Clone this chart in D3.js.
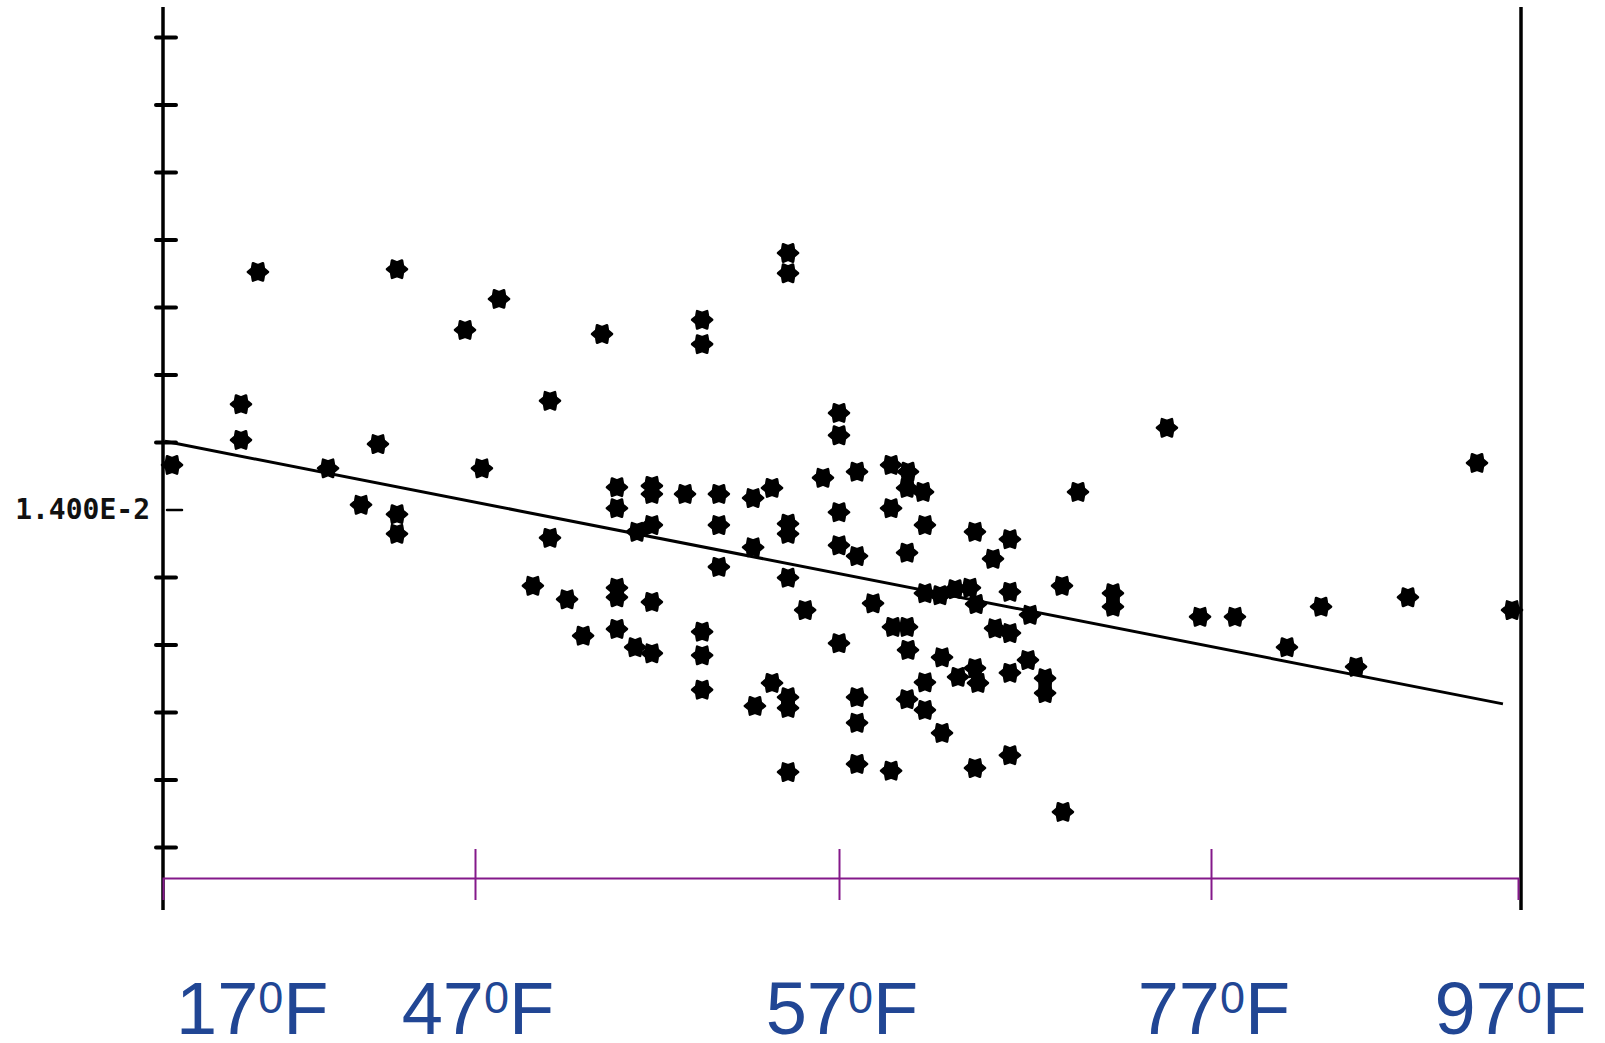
<!DOCTYPE html>
<html>
<head>
<meta charset="utf-8">
<style>
	body { margin: 0; background: #fff; }
	svg { display: block; }
</style>
</head>
<body>
<svg width="1605" height="1043"></svg>

<script src="https://d3js.org/d3.v7.min.js"></script>
<script>

	/*

	Scatter of a ratio (x 1E-2) against temperature, with the fitted line.
	The temperature labels were pasted on later, so the °F axis is not even:
	it is a piecewise scale through the labelled temperatures.

	*/

	// temperature of each point, °F
	const tempF = [
		17.87, 26.13, 24.50, 24.50, 32.87, 36.04, 37.67, 39.50, 39.50, 39.50,
		46.04, 47.66, 47.19, 49.06, 49.06, 48.59, 49.53, 49.97, 50.49, 53.24,
		53.24, 55.60, 55.60, 50.90, 50.90, 51.86, 51.86, 52.77, 53.70, 54.64,
		55.16, 51.45, 51.86, 53.70, 55.60, 55.60, 54.64, 53.70, 55.60, 56.07,
		50.90, 50.90, 51.86, 50.90, 51.40, 51.86, 53.24, 53.24, 53.24, 54.69,
		55.16, 55.60, 55.60, 55.60, 56.56, 57.00, 57.00, 57.00, 57.97, 57.00,
		57.97, 59.80, 60.71, 60.66, 61.52, 59.80, 61.62, 60.66, 57.00, 58.83,
		59.90, 60.66, 60.71, 57.97, 57.97, 57.97, 59.80, 60.66, 61.62, 61.62,
		62.54, 62.54, 61.62, 62.43, 63.24, 64.04, 64.37, 64.31, 66.19, 65.28,
		66.19, 67.27, 65.39, 66.19, 63.40, 64.31, 64.47, 66.19, 67.16, 68.08,
		68.08, 64.31, 66.19, 69.04, 68.99, 69.85, 71.73, 71.73, 74.63, 76.41,
		78.56, 81.95, 84.17, 86.45, 89.83, 94.33, 96.61
	]

	// measured value of each point, in units of 1E-2
	const ratio = [
		1.466, 1.752, 1.556, 1.503, 1.461, 1.407, 1.497, 1.756, 1.393, 1.364,
		1.666, 1.712, 1.461, 1.561, 1.358, 1.287, 1.267, 1.213, 1.660, 1.681,
		1.645, 1.780, 1.750, 1.433, 1.402, 1.435, 1.423, 1.423, 1.423, 1.417,
		1.432, 1.367, 1.377, 1.377, 1.379, 1.364, 1.344, 1.315, 1.299, 1.251,
		1.284, 1.270, 1.263, 1.223, 1.196, 1.187, 1.219, 1.184, 1.133, 1.109,
		1.143, 1.122, 1.106, 1.011, 1.447, 1.543, 1.510, 1.396, 1.456, 1.347,
		1.331, 1.466, 1.456, 1.432, 1.426, 1.402, 1.377, 1.336, 1.202, 1.261,
		1.226, 1.226, 1.192, 1.122, 1.084, 1.023, 1.013, 1.119, 1.144, 1.103,
		1.181, 1.069, 1.276, 1.273, 1.282, 1.284, 1.260, 1.367, 1.356, 1.327,
		1.278, 1.244, 1.224, 1.217, 1.152, 1.165, 1.143, 1.158, 1.177, 1.150,
		1.128, 1.017, 1.036, 0.952, 1.287, 1.426, 1.276, 1.256, 1.521, 1.241,
		1.241, 1.196, 1.256, 1.167, 1.270, 1.469, 1.251
	]

	// fitted line, start and end
	const fitTemp = [17.19, 96.02]
	const fitRatio = [1.501, 1.112]

	// left axis ticks (x 1E-2), only one of them is labelled
	const yTicks = [0.9, 1.0, 1.1, 1.2, 1.3, 1.4, 1.5, 1.6, 1.7, 1.8, 1.9, 2.0, 2.1]
	const yLabelled = 1.4

	// temperature labels and the ones that get a purple tick
	const xLabels = [17, 47, 57, 77, 97]
	const xTicks = [47, 57, 77]

	const width = 1605
	const height = 1043

	// frame of the old plot
	const frame = {left: 163, right: 1521, top: 7, bottom: 910}
	const axisY = 878

	const x = d3.scaleLinear()
		.domain(xLabels)
		.range([163, 475, 839, 1211, 1518])

	const y = d3.scaleLinear()
		.domain([0.9, 2.1])
		.range([847, 37])

	const svg = d3.select("svg")
		.attr("viewBox", [0, 0, width, height])

	// six pointed star used as the marker (printer asterisk)
	const star6 = {
		draw(context, size) {
			const R = Math.sqrt(size)
			const r = R * 0.68
			for (let i = 0; i < 12; i++) {
				const a = i * Math.PI / 6
				const rad = i % 2 ? r : R
				const px = rad * Math.cos(a)
				const py = rad * Math.sin(a)
				if (i === 0) context.moveTo(px, py)
				else context.lineTo(px, py)
			}
			context.closePath()
		}
	}

	// vertical frame lines
	svg.append("g")
		.selectAll("line")
		.data([frame.left, frame.right])
		.join("line")
			.attr("x1", d => d)
			.attr("x2", d => d)
			.attr("y1", frame.top)
			.attr("y2", frame.bottom)
			.attr("stroke", "#000")
			.attr("stroke-width", 3.5)

	// left axis, ticks cross the line
	const yAxis = svg.append("g")
		.attr("transform", `translate(${frame.left},0)`)
		.call(d3.axisLeft(y)
			.tickValues(yTicks)
			.tickSize(8)
			.tickPadding(5)
			.tickFormat(d => d === yLabelled ? "1.400E-2" : ""))

	yAxis.select(".domain").remove()
	yAxis.selectAll(".tick line")
		.attr("stroke", "#000")
		.attr("stroke-width", d => d === yLabelled ? 2.5 : 4)
		.attr("stroke-linecap", "round")
		.attr("x1", d => d === yLabelled ? 19 : 13)
		.attr("x2", d => d === yLabelled ? 4 : -7)
	yAxis.selectAll(".tick text")
		.attr("fill", "#111")
		.attr("font-family", "'DejaVu Sans Mono', monospace")
		.attr("font-weight", "bold")
		.attr("font-size", 28)

	// purple temperature axis
	const xAxis = svg.append("g")
		.attr("transform", `translate(0,${axisY})`)
		.call(d3.axisBottom(x)
			.tickValues(xTicks)
			.tickSizeOuter(0)
			.tickSize(22)
			.tickFormat(""))

	xAxis.select(".domain")
		.attr("stroke", "#84198a")
		.attr("stroke-width", 2)
	xAxis.selectAll(".tick line")
		.attr("stroke", "#84198a")
		.attr("stroke-width", 2)
		.attr("y1", -29)

	// fitted line
	const line = d3.line()
		.x(d => x(d[0]))
		.y(d => y(d[1]))

	svg.append("path")
		.datum(d3.zip(fitTemp, fitRatio))
		.attr("d", line)
		.attr("fill", "none")
		.attr("stroke", "#000")
		.attr("stroke-width", 3)

	// points
	svg.append("g")
		.selectAll("path")
		.data(d3.zip(tempF, ratio))
		.join("path")
			.attr("transform", d => `translate(${x(d[0])},${y(d[1])})`)
			.attr("d", d3.symbol().type(star6).size(100))
			.attr("fill", "#000")
			.attr("stroke", "#000")
			.attr("stroke-width", 2.6)
			.attr("stroke-linejoin", "round")

	// temperature labels, 17 and 97 are pushed inside the page
	const label = svg.append("g")
		.attr("font-family", "'Liberation Sans', Arial, sans-serif")
		.attr("fill", "#214694")
		.selectAll("text")
		.data(xLabels)
		.join("text")
			.attr("y", 1034)
			.attr("font-size", 74)

	label.append("tspan").text(d => d)
	label.append("tspan")
		.attr("font-size", 45)
		.attr("dy", -21)
		.text("0")
	label.append("tspan")
		.attr("dy", 21)
		.text("F")

	label.each(function (d) {
		const w = this.getComputedTextLength()
		let cx = x(d) + 3
		cx = Math.max(cx, frame.left + 13 + w / 2)
		cx = Math.min(cx, width - 18 - w / 2)
		d3.select(this).attr("x", cx - w / 2)
	})

</script>
</body>
</html>
